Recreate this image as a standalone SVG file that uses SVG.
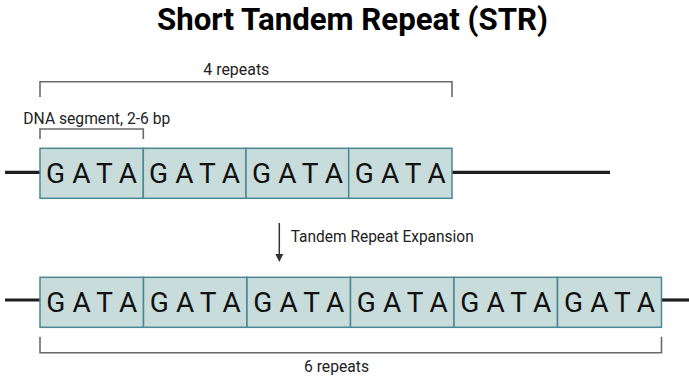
<svg xmlns="http://www.w3.org/2000/svg" width="689" height="380" viewBox="0 0 689 380">
<style>
.box{fill:#c8dcdb;stroke:#4b8893;stroke-width:1.5}
.dna{stroke:#1e1e1e;stroke-width:3.2;fill:none}
.br{stroke:#6a6a6a;stroke-width:1.6;fill:none}
.seq{font-family:Roboto,"Liberation Sans",sans-serif;font-size:28px;fill:#111;text-anchor:middle}
.lbl{font-family:Roboto,"Liberation Sans",sans-serif;font-size:15.6px;fill:#222}
.title{font-family:Roboto,"Liberation Sans",sans-serif;font-size:31.5px;font-weight:bold;fill:#000;text-anchor:middle}
</style>
<text class="title" x="352.5" y="30" textLength="391" lengthAdjust="spacingAndGlyphs">Short Tandem Repeat (STR)</text>

<g id="connectors">
<line class="dna" x1="5" y1="172.3" x2="40" y2="172.3"/>
<line class="dna" x1="452" y1="172.3" x2="610" y2="172.3"/>
<line class="dna" x1="5" y1="300" x2="40" y2="300"/>
<line class="dna" x1="661.5" y1="300" x2="689" y2="300"/>
<path class="br" d="M40,97 V81.7 H452 V97"/>
<path class="br" d="M40,139 V129 H143.3 V139"/>
<path class="br" d="M40,336.7 V352.7 H661.5 V336.7"/>
<line x1="279.3" y1="223" x2="279.3" y2="255" stroke="#333" stroke-width="1.5"/>
<path d="M275.3,254 L283.3,254 L279.3,262 Z" fill="#333"/>
</g>

<g id="labels">
<text class="lbl" x="203.3" y="75" textLength="66" lengthAdjust="spacingAndGlyphs">4 repeats</text>
<text class="lbl" x="23.3" y="124" textLength="147" lengthAdjust="spacingAndGlyphs">DNA segment, 2-6 bp</text>
<text class="lbl" x="290.7" y="241.7" textLength="183" lengthAdjust="spacingAndGlyphs">Tandem Repeat Expansion</text>
<text class="lbl" x="304" y="371.5" textLength="65" lengthAdjust="spacingAndGlyphs">6 repeats</text>
</g>

<g id="top-row">
<g id="t1"><rect class="box" x="40" y="148.3" width="103.3" height="50"/><text class="seq" x="91.6" y="182.7" textLength="91" lengthAdjust="spacing">GATA</text></g>
<g id="t2"><rect class="box" x="143.3" y="148.3" width="102.7" height="50"/><text class="seq" x="194.6" y="182.7" textLength="91" lengthAdjust="spacing">GATA</text></g>
<g id="t3"><rect class="box" x="246" y="148.3" width="102.7" height="50"/><text class="seq" x="297.4" y="182.7" textLength="91" lengthAdjust="spacing">GATA</text></g>
<g id="t4"><rect class="box" x="348.7" y="148.3" width="103.3" height="50"/><text class="seq" x="400.3" y="182.7" textLength="91" lengthAdjust="spacing">GATA</text></g>
</g>

<g id="bottom-row">
<g id="b1"><rect class="box" x="40" y="277.3" width="103.5" height="50"/><text class="seq" x="91.8" y="311.7" textLength="91" lengthAdjust="spacing">GATA</text></g>
<g id="b2"><rect class="box" x="143.5" y="277.3" width="103.5" height="50"/><text class="seq" x="195.3" y="311.7" textLength="91" lengthAdjust="spacing">GATA</text></g>
<g id="b3"><rect class="box" x="247" y="277.3" width="103.5" height="50"/><text class="seq" x="298.8" y="311.7" textLength="91" lengthAdjust="spacing">GATA</text></g>
<g id="b4"><rect class="box" x="350.5" y="277.3" width="103.5" height="50"/><text class="seq" x="402.3" y="311.7" textLength="91" lengthAdjust="spacing">GATA</text></g>
<g id="b5"><rect class="box" x="454" y="277.3" width="103.5" height="50"/><text class="seq" x="505.8" y="311.7" textLength="91" lengthAdjust="spacing">GATA</text></g>
<g id="b6"><rect class="box" x="557.5" y="277.3" width="104" height="50"/><text class="seq" x="609.5" y="311.7" textLength="91" lengthAdjust="spacing">GATA</text></g>
</g>
</svg>
